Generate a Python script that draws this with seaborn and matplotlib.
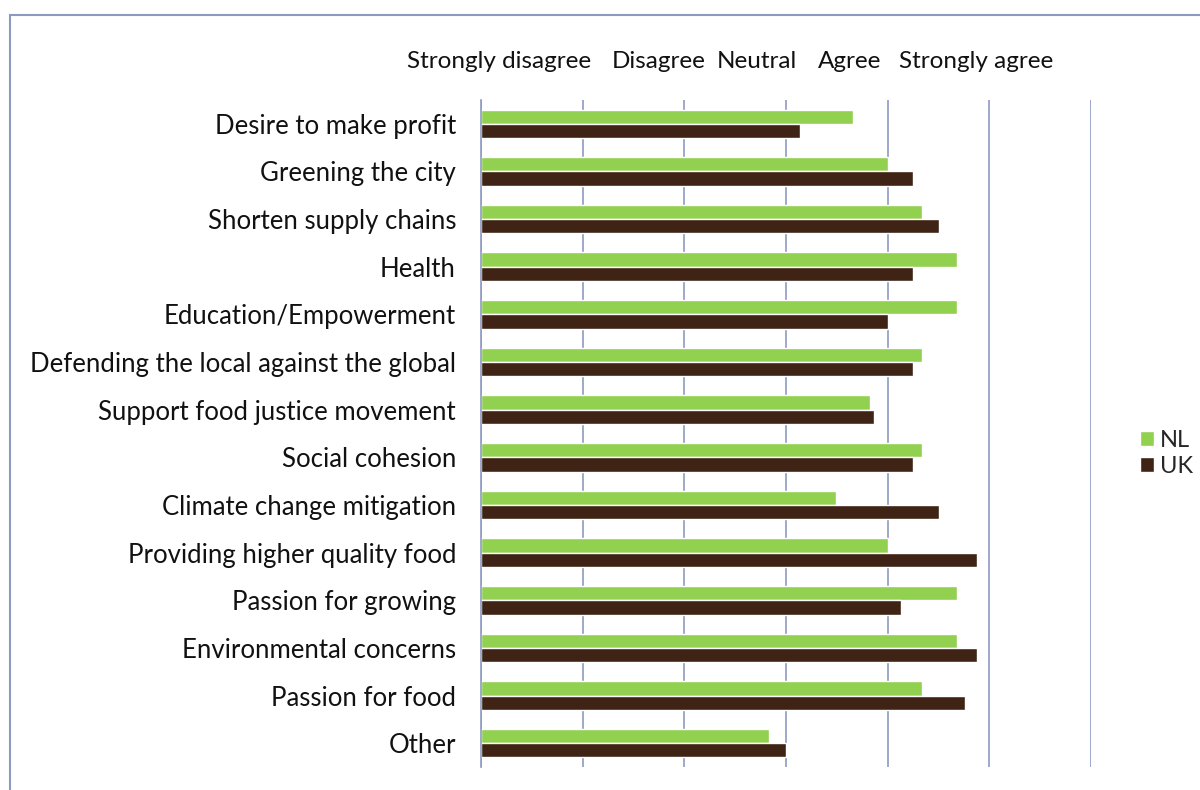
import pandas as pd
import matplotlib.pyplot as plt
import seaborn as sns
from matplotlib.patches import Rectangle

# data (1 = strongly disagree ... 5 = strongly agree)
motives = [
    "Desire to make profit",
    "Greening the city",
    "Shorten supply chains",
    "Health",
    "Education/Empowerment",
    "Defending the local against the global",
    "Support food justice movement",
    "Social cohesion",
    "Climate change mitigation",
    "Providing higher quality food",
    "Passion for growing",
    "Environmental concerns",
    "Passion for food",
    "Other",
]
nl_scores = [3.66, 4.0, 4.34, 4.68, 4.68, 4.34, 3.83, 4.34, 3.49, 4.0, 4.68, 4.68, 4.34, 2.83]
uk_scores = [3.14, 4.25, 4.5, 4.25, 4.0, 4.25, 3.87, 4.25, 4.5, 4.88, 4.13, 4.88, 4.76, 3.0]
scale_labels = ["Strongly disagree", "Disagree", "Neutral", "Agree", "Strongly agree"]

df = pd.DataFrame({
    "Motive": motives * 2,
    "Score": nl_scores + uk_scores,
    "Country": ["NL"] * len(motives) + ["UK"] * len(motives),
})

sns.set_style("white")
plt.rcParams["font.family"] = ["Lato", "DejaVu Sans"]

grid_col = "#8d9ac0"
green = "#92d050"
brown = "#3f2314"

fig = plt.figure(figsize=(12, 7.9), dpi=100)
ax = fig.add_axes([481 / 1200, 1 - 767 / 790, (1091 - 481) / 1200, (767 - 100) / 790])

sns.barplot(data=df, y="Motive", x="Score", hue="Country", order=motives,
            hue_order=["NL", "UK"], palette=[green, brown], orient="h",
            width=0.6, saturation=1, ax=ax)

ax.set_xlim(0, 6)
ax.set_ylim(len(motives) - 0.5, -0.5)
ax.set_xticks(range(7))
ax.set_xticklabels([])
ax.tick_params(axis="x", length=0)
ax.grid(axis="x", color=grid_col, linewidth=1.2)
ax.set_axisbelow(True)
ax.set_xlabel("")
ax.set_ylabel("")

# category labels, ticks at boundaries
ax.tick_params(axis="y", which="major", length=0, labelsize=18.5, pad=18, labelcolor="#111111")
ax.set_yticks([i + 0.5 for i in range(-1, len(motives))], minor=True)
ax.tick_params(axis="y", which="minor", length=7, color=grid_col, width=1.2, direction="out")

for s in ["top", "right", "bottom"]:
    ax.spines[s].set_visible(False)
ax.spines["left"].set_color(grid_col)
ax.spines["left"].set_linewidth(1.2)

# legend on the right
ax.legend(loc="center left", bbox_to_anchor=(1.045, 0.47), frameon=False,
          fontsize=17, handlelength=0.6, handleheight=0.6, handletextpad=0.25,
          labelspacing=0.2)

# scale labels across the top
label_x = [407, 612, 717, 818, 899]
for lx, lab in zip(label_x, scale_labels):
    fig.text(lx / 1200, 1 - 62 / 790, lab, fontsize=17.5, ha="left", va="center",
             color="#111111")

# outer frame
fig.patches.append(Rectangle((10 / 1200, -0.1), 1.5, 1 - 15 / 790 + 0.1,
                             transform=fig.transFigure, fill=False,
                             edgecolor=grid_col, linewidth=1.5))

fig.savefig("out.png", dpi=100)
